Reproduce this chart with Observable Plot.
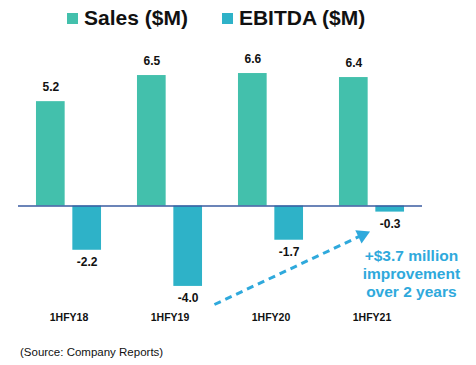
<!DOCTYPE html>
<html>
<head>
<meta charset="utf-8">
<script src="https://cdn.jsdelivr.net/npm/d3@7"></script>
<script src="https://cdn.jsdelivr.net/npm/@observablehq/plot@0.6"></script>
<style>
  html, body { margin: 0; padding: 0; background: #fff; }
  body { width: 476px; height: 365px; overflow: hidden; font-family: "Liberation Sans", Arial, sans-serif; }
  #legend { display: flex; align-items: center; height: 36px; padding-left: 67px; gap: 34px;
            font-weight: bold; font-size: 21px; color: #111; }
  #legend .item { display: flex; align-items: center; }
  #legend .sw { width: 11px; height: 11px; margin-right: 6px; display: inline-block; }
  #caption { margin-top: 9px; padding-left: 20px; font-size: 11.5px; line-height: 14px; color: #111; }
</style>
</head>
<body>
<div id="legend"></div>
<div id="chart"></div>
<div id="caption">(Source: Company Reports)</div>
<script>
const categories = ["1HFY18", "1HFY19", "1HFY20", "1HFY21"];
const sales = [5.2, 6.5, 6.6, 6.4];
const ebitda = [-2.2, -4.0, -1.7, -0.3];
const seriesKeys = ["Sales", "EBITDA"];
const seriesLabels = ["Sales ($M)", "EBITDA ($M)"];
const seriesColors = ["#43C0AC", "#2EB2C8"];
const annotationLines = ["+$3.7 million", "improvement", "over 2 years"];
const annotationColor = "#2FA9DC";

// legend
const legend = document.getElementById("legend");
seriesKeys.forEach((k, j) => {
  const it = document.createElement("div");
  it.className = "item";
  const sw = document.createElement("span");
  sw.className = "sw";
  sw.style.background = seriesColors[j];
  it.appendChild(sw);
  it.appendChild(document.createTextNode(seriesLabels[j]));
  legend.appendChild(it);
});

const rows = categories.flatMap((c, i) => [
  {cat: c, i, series: "Sales", value: sales[i]},
  {cat: c, i, series: "EBITDA", value: ebitda[i]}
]);
const offsets = {Sales: [-0.322, -0.038], EBITDA: [0.038, 0.322]};
const cx = d => d.i + (offsets[d.series][0] + offsets[d.series][1]) / 2;

// annotation arrow anchored on the EBITDA values of 1HFY19 and 1HFY21
const iFrom = 1, iTo = 3;
const start = {x: iFrom + 0.44, y: ebitda[iFrom] - 0.9};
const tip = {x: iTo - 0.035, y: ebitda[iTo] - 1.0};
const head = {x: tip.x - 0.04 * (tip.x - start.x), y: tip.y - 0.04 * (tip.y - start.y)};

const font = "Liberation Sans, Arial, sans-serif";

const chart = Plot.plot({
  width: 476,
  height: 300,
  marginLeft: 18,
  marginRight: 54,
  marginTop: 29,
  marginBottom: 30,
  style: {fontFamily: font, background: "#fff", overflow: "visible"},
  x: {type: "linear", domain: [-0.5, 3.5], axis: null},
  y: {domain: [-5, 7], axis: null},
  color: {domain: seriesKeys, range: seriesColors},
  marks: [
    Plot.rectY(rows, {
      x1: d => d.i + offsets[d.series][0],
      x2: d => d.i + offsets[d.series][1],
      y1: 0, y2: "value", fill: "series"
    }),
    Plot.ruleY([0], {stroke: "#3A5BA0", strokeWidth: 1.5}),
    Plot.text(rows.filter(d => d.value >= 0), {
      x: cx, y: "value", text: d => d.value.toFixed(1),
      dy: -14, fontSize: 12, fontWeight: "bold", fill: "#111"
    }),
    Plot.text(rows.filter(d => d.value < 0), {
      x: cx, y: "value", text: d => d.value.toFixed(1),
      dy: 12, fontSize: 12, fontWeight: "bold", fill: "#111"
    }),
    Plot.text(categories, {
      x: (d, i) => i, frameAnchor: "bottom", text: d => d,
      dy: 14, fontSize: 10.5, fontWeight: "bold", fill: "#111"
    }),
    Plot.link([0], {
      x1: () => start.x, y1: () => start.y, x2: () => head.x, y2: () => head.y,
      stroke: annotationColor, strokeWidth: 3, strokeDasharray: "7,5"
    }),
    Plot.dot([0], {
      x: () => head.x, y: () => head.y, symbol: "triangle", r: 5.5,
      fill: annotationColor, rotate: 65
    }),
    Plot.text([annotationLines.join("\n")], {
      x: () => iTo + 0.39, y: () => ebitda[iTo] - 1.76, text: d => d,
      lineAnchor: "top", lineHeight: 1.19, fontSize: 15.5, fontWeight: "bold",
      fill: annotationColor
    })
  ]
});
document.getElementById("chart").appendChild(chart);
</script>
</body>
</html>
